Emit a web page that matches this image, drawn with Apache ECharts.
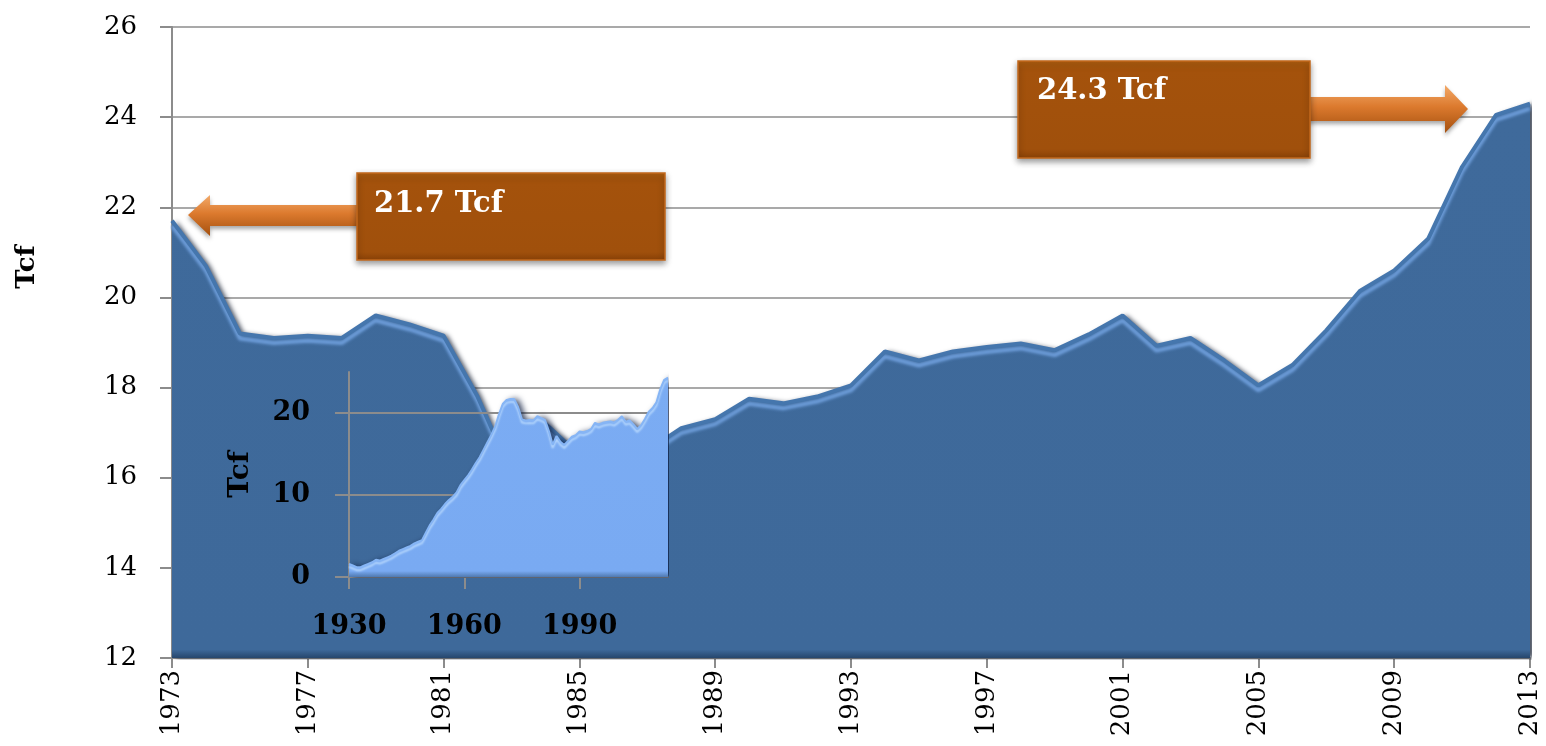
<!DOCTYPE html>
<html><head><meta charset="utf-8">
<script src="https://cdn.jsdelivr.net/npm/echarts@6/dist/echarts.min.js"></script>
<style>html,body{margin:0;padding:0;background:#fff}#c{width:1546px;height:746px}</style>
</head><body><div id="c"></div>
<script>
// ---- data ----
const mainYears = ['1973','1974','1975','1976','1977','1978','1979','1980','1981','1982','1983','1984','1985','1986','1987','1988','1989','1990','1991','1992','1993','1994','1995','1996','1997','1998','1999','2000','2001','2002','2003','2004','2005','2006','2007','2008','2009','2010','2011','2012','2013'];
const mainValues = [21.7,20.7,19.2,19.1,19.15,19.1,19.6,19.4,19.15,17.8,16.1,17.2,16.5,16.1,16.6,17.1,17.3,17.75,17.65,17.8,18.05,18.8,18.6,18.8,18.9,18.98,18.83,19.18,19.6,18.93,19.1,18.6,18.05,18.5,19.27,20.15,20.6,21.3,22.9,24.05,24.3];
const earlyYears = ['1930','1931','1932','1933','1934','1935','1936','1937','1938','1939','1940','1941','1942','1943','1944','1945','1946','1947','1948','1949','1950','1951','1952','1953','1954','1955','1956','1957','1958','1959','1960','1961','1962','1963','1964','1965','1966','1967','1968','1969','1970','1971','1972'];
const earlyValues = [1.6,1.4,1.2,1.2,1.4,1.6,1.8,2.1,2.0,2.2,2.4,2.6,2.9,3.2,3.4,3.6,3.8,4.1,4.3,4.5,5.4,6.3,7.0,7.8,8.3,8.9,9.4,9.8,10.3,11.2,11.8,12.4,13.1,13.9,14.6,15.5,16.4,17.3,18.3,19.8,21.1,21.6,21.7];
const insetYears = earlyYears.concat(mainYears);
const insetValues = earlyValues.concat(mainValues);
const calloutLeft = '21.7 Tcf';
const calloutRight = '24.3 Tcf';
const unitLabel = 'Tcf';

const FONT = 'DejaVu Serif';
const GRID = '#8c8c8c';

const chart = echarts.init(document.getElementById('c'), null, {renderer: 'canvas'});

const arrowGrad = {type:'linear',x:0,y:0,x2:0,y2:1,colorStops:[{offset:0,color:'#f3aa6a'},{offset:0.45,color:'#dc7a2e'},{offset:1,color:'#a4500f'}]};
const boxGrad = {type:'linear',x:0,y:0,x2:0,y2:1,colorStops:[{offset:0,color:'#b0600f'},{offset:0.1,color:'#a4520c'},{offset:0.9,color:'#a0500c'},{offset:1,color:'#8a4208'}]};

chart.setOption({
  animation: false,
  backgroundColor: '#fff',
  grid: [
    {left: 172, right: 16, top: 27, bottom: 88},
    {left: 349, right: 878, top: 372, bottom: 169}
  ],
  xAxis: [
    {
      gridIndex: 0, type: 'category', data: mainYears, boundaryGap: false,
      axisLine: {lineStyle: {color: GRID, width: 2}},
      axisTick: {interval: 3, length: 10, lineStyle: {color: GRID, width: 2}},
      axisLabel: {interval: 3, rotate: 90, margin: 12, color: '#000', fontFamily: FONT, fontSize: 26},
      splitLine: {show: false}
    },
    {
      gridIndex: 1, type: 'category', data: insetYears, boundaryGap: false, z: 3,
      axisLine: {lineStyle: {color: GRID, width: 2}},
      axisTick: {interval: 29, length: 12, lineStyle: {color: GRID, width: 2}},
      axisLabel: {interval: 29, margin: 36, color: '#000', fontFamily: FONT, fontSize: 27, fontWeight: 'bold'},
      splitLine: {show: false}
    }
  ],
  yAxis: [
    {
      gridIndex: 0, type: 'value', min: 12, max: 26, interval: 2,
      axisLine: {show: true, lineStyle: {color: GRID, width: 2}},
      axisTick: {show: true, length: 12, lineStyle: {color: GRID, width: 2}},
      axisLabel: {margin: 35, color: '#000', fontFamily: FONT, fontSize: 26},
      splitLine: {show: true, lineStyle: {color: GRID, width: 1.5}}
    },
    {
      gridIndex: 1, type: 'value', min: 0, max: 25, interval: 10, z: 3,
      name: unitLabel, nameLocation: 'middle', nameGap: 94, nameRotate: 90,
      nameTextStyle: {color: '#000', fontFamily: FONT, fontSize: 28, fontWeight: 'bold'},
      axisLine: {show: true, lineStyle: {color: GRID, width: 2}},
      axisTick: {show: true, length: 14, lineStyle: {color: GRID, width: 2}},
      axisLabel: {margin: 39, color: '#000', fontFamily: FONT, fontSize: 27, fontWeight: 'bold', showMaxLabel: false},
      splitLine: {show: true, showMaxLine: false, lineStyle: {color: GRID, width: 2}}
    }
  ],
  series: [
    {
      type: 'line', xAxisIndex: 0, yAxisIndex: 0, data: mainValues,
      symbol: 'none', z: 2,
      lineStyle: {color: '#4576ad', width: 4, shadowColor: '#6f9fdc', shadowOffsetY: 5, shadowBlur: 3},
      areaStyle: {
        origin: 'start', opacity: 1,
        color: {type:'linear',x:0,y:0,x2:0,y2:1,colorStops:[{offset:0,color:'#3f6a9b'},{offset:0.985,color:'#3e699a'},{offset:1,color:'#26466c'}]},
        shadowColor: 'rgba(10,20,40,0.75)', shadowBlur: 5, shadowOffsetX: 4
      }
    },
    {
      type: 'line', xAxisIndex: 1, yAxisIndex: 1, data: insetValues,
      symbol: 'none', z: 4,
      lineStyle: {color: '#86b5f5', width: 2, shadowColor: '#b4d6fd', shadowOffsetY: 3, shadowBlur: 2},
      areaStyle: {
        origin: 'start', opacity: 1,
        color: {type:'linear',x:0,y:0,x2:0,y2:1,colorStops:[{offset:0,color:'#7bacf3'},{offset:0.97,color:'#79aaf2'},{offset:1,color:'#4f79b0'}]},
        shadowColor: 'rgba(10,25,60,0.8)', shadowBlur: 6, shadowOffsetX: 4
      }
    }
  ],
  graphic: [
    {type: 'text', x: 27, y: 267, rotation: Math.PI / 2, z: 100,
     style: {text: unitLabel, font: 'bold 26px "DejaVu Serif"', fill: '#000', textAlign: 'center', textVerticalAlign: 'middle'}},
    // left arrow
    {type: 'polygon', z: 100,
     shape: {points: [[188,215],[210,195],[210,205],[365,205],[365,226],[210,226],[210,236]]},
     style: {fill: arrowGrad, shadowColor: 'rgba(0,0,0,0.35)', shadowBlur: 4, shadowOffsetY: 3}},
    {type: 'rect', z: 101,
     shape: {x: 357, y: 173, width: 308, height: 87},
     style: {fill: boxGrad, stroke: '#c2681c', lineWidth: 1.5, shadowColor: 'rgba(0,0,0,0.4)', shadowBlur: 6, shadowOffsetY: 3}},
    {type: 'text', z: 102, x: 374, y: 204,
     style: {text: calloutLeft, font: 'bold 29px "DejaVu Serif"', fill: '#fff', textAlign: 'left', textVerticalAlign: 'middle'}},
    // right arrow
    {type: 'polygon', z: 100,
     shape: {points: [[1300,97],[1445,97],[1445,85],[1468,109],[1445,133],[1445,121],[1300,121]]},
     style: {fill: arrowGrad, shadowColor: 'rgba(0,0,0,0.35)', shadowBlur: 4, shadowOffsetY: 3}},
    {type: 'rect', z: 101,
     shape: {x: 1018, y: 61, width: 292, height: 97},
     style: {fill: boxGrad, stroke: '#c2681c', lineWidth: 1.5, shadowColor: 'rgba(0,0,0,0.4)', shadowBlur: 6, shadowOffsetY: 3}},
    {type: 'text', z: 102, x: 1037, y: 91,
     style: {text: calloutRight, font: 'bold 29px "DejaVu Serif"', fill: '#fff', textAlign: 'left', textVerticalAlign: 'middle'}}
  ]
});
</script></body></html>
